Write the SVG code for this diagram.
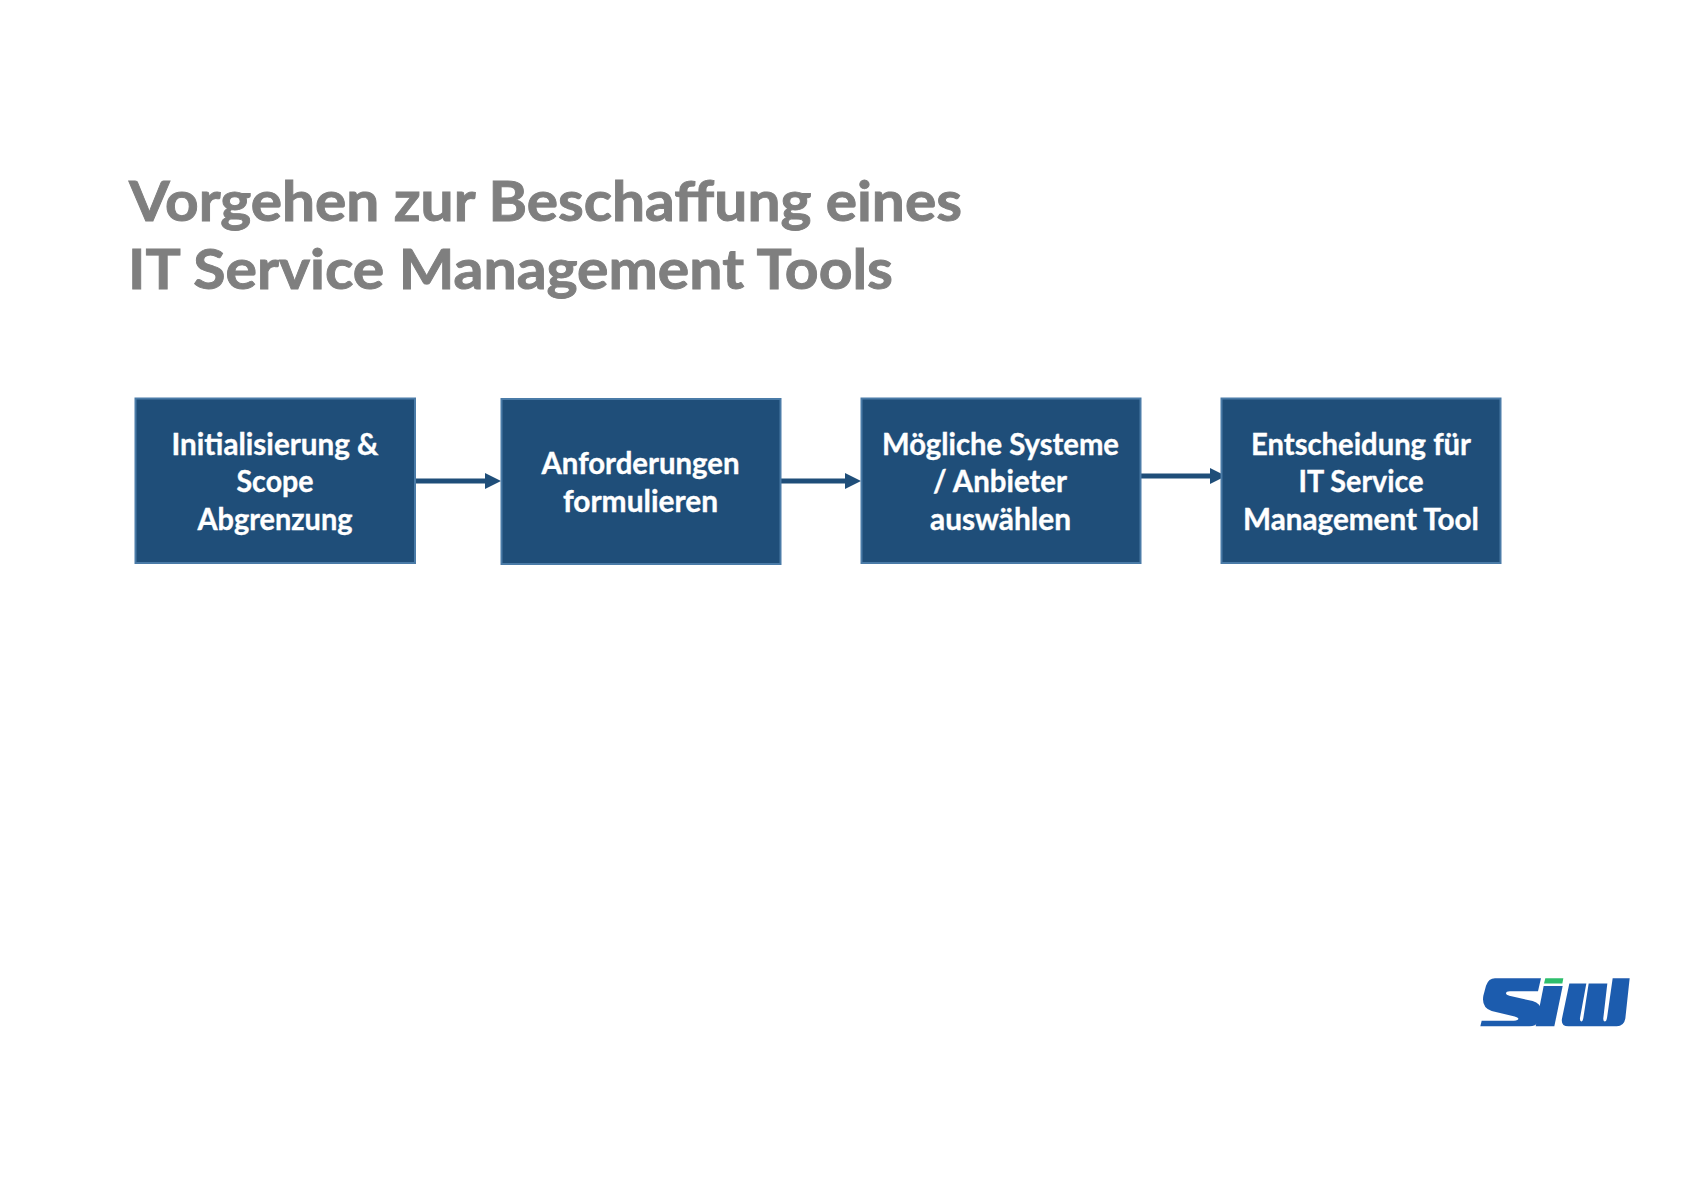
<svg xmlns="http://www.w3.org/2000/svg" width="1683" height="1190" viewBox="0 0 1683 1190">
<style>
text{font-family:"Lato","Liberation Sans",sans-serif;font-weight:700}
.t{font-size:55px;fill:#7f7f7f;stroke:#7f7f7f;stroke-width:.9px}
.b{font-size:29.5px;fill:#fff;stroke:#fff;stroke-width:.35px;text-anchor:middle}
.box{fill:#1f4e79;stroke:#4a7ba7;stroke-width:2}
.c{stroke:#1f4e79;stroke-width:5;fill:none}
.h{fill:#1f4e79}
.l{fill:#1f5cae}
</style>
<defs><filter id="soft" x="-5%" y="-5%" width="110%" height="110%"><feGaussianBlur stdDeviation="1.6"/></filter></defs>
<rect width="1683" height="1190" fill="#fff"/>
<g id="title">
<text class="t" x="129" y="221" textLength="833" lengthAdjust="spacingAndGlyphs">Vorgehen zur Beschaffung eines</text>
<text class="t" x="128" y="289" textLength="765" lengthAdjust="spacingAndGlyphs">IT Service Management Tools</text>
</g>
<g id="connectors">
<line class="c" x1="415" y1="481" x2="487" y2="481"/><polygon class="h" points="485,473 501,481 485,489"/>
<line class="c" x1="781" y1="481" x2="847" y2="481"/><polygon class="h" points="845,473 861,481 845,489"/>
<line class="c" x1="1141" y1="476" x2="1212" y2="476"/><polygon class="h" points="1210,468 1226,476 1210,484"/>
</g>
<g id="node1">
<rect class="box" x="135.5" y="398.5" width="279.5" height="164.5"/>
<text class="b" x="275" y="454.5" textLength="207" lengthAdjust="spacingAndGlyphs">Initialisierung &amp;</text>
<text class="b" x="275" y="492" textLength="77" lengthAdjust="spacingAndGlyphs">Scope</text>
<text class="b" x="275" y="529.5" textLength="155" lengthAdjust="spacingAndGlyphs">Abgrenzung</text>
</g>
<g id="node2">
<rect class="box" x="501.5" y="399" width="279" height="165"/>
<text class="b" x="640.5" y="473.5" textLength="198" lengthAdjust="spacingAndGlyphs">Anforderungen</text>
<text class="b" x="640.5" y="511.5" textLength="155" lengthAdjust="spacingAndGlyphs">formulieren</text>
</g>
<g id="node3">
<rect class="box" x="861.5" y="398.5" width="279" height="164.5"/>
<text class="b" x="1000.5" y="454.5" textLength="237" lengthAdjust="spacingAndGlyphs">Mögliche Systeme</text>
<text class="b" x="1000" y="492" textLength="134" lengthAdjust="spacingAndGlyphs">/ Anbieter</text>
<text class="b" x="1000.5" y="529.5" textLength="141" lengthAdjust="spacingAndGlyphs">auswählen</text>
</g>
<g id="node4">
<rect class="box" x="1221.5" y="398.5" width="279" height="164.5"/>
<text class="b" x="1361" y="454.5" textLength="220" lengthAdjust="spacingAndGlyphs">Entscheidung für</text>
<text class="b" x="1361" y="492" textLength="125" lengthAdjust="spacingAndGlyphs">IT Service</text>
<text class="b" x="1361" y="529.5" textLength="236" lengthAdjust="spacingAndGlyphs">Management Tool</text>
</g>
<g id="logo" transform="translate(1440 948.6) scale(.33333 .35)" filter="url(#soft)">
<path class="l" d="M165,85 L303,85 L294,122 L210,122 Q198,122 198,128 Q198,132 208,135 L278,150 Q306,158 302,180 L294,208 Q288,222 268,222 L121,222 L125,206 L222,206 Q236,206 235,200 Q234,196 224,194 L155,178 Q124,168 130,135 L138,106 Q146,85 165,85 Z"/>
<path fill="#2dbe6c" d="M316,85 H370 L367,100 H312 Z"/>
<path class="l" d="M311,107 H368 L343,222 H287 Z"/>
<path class="l" d="M388,100 L366,200 Q362,222 385,222 L530,222 Q552,222 556,200 L569,85 L518,85 L501,198 Q499,208 494,208 Q489,208 490,198 L502,100 L446,100 L430,198 Q428,208 424,208 Q419,208 420,198 L439,100 Z"/>
</g>
</svg>
